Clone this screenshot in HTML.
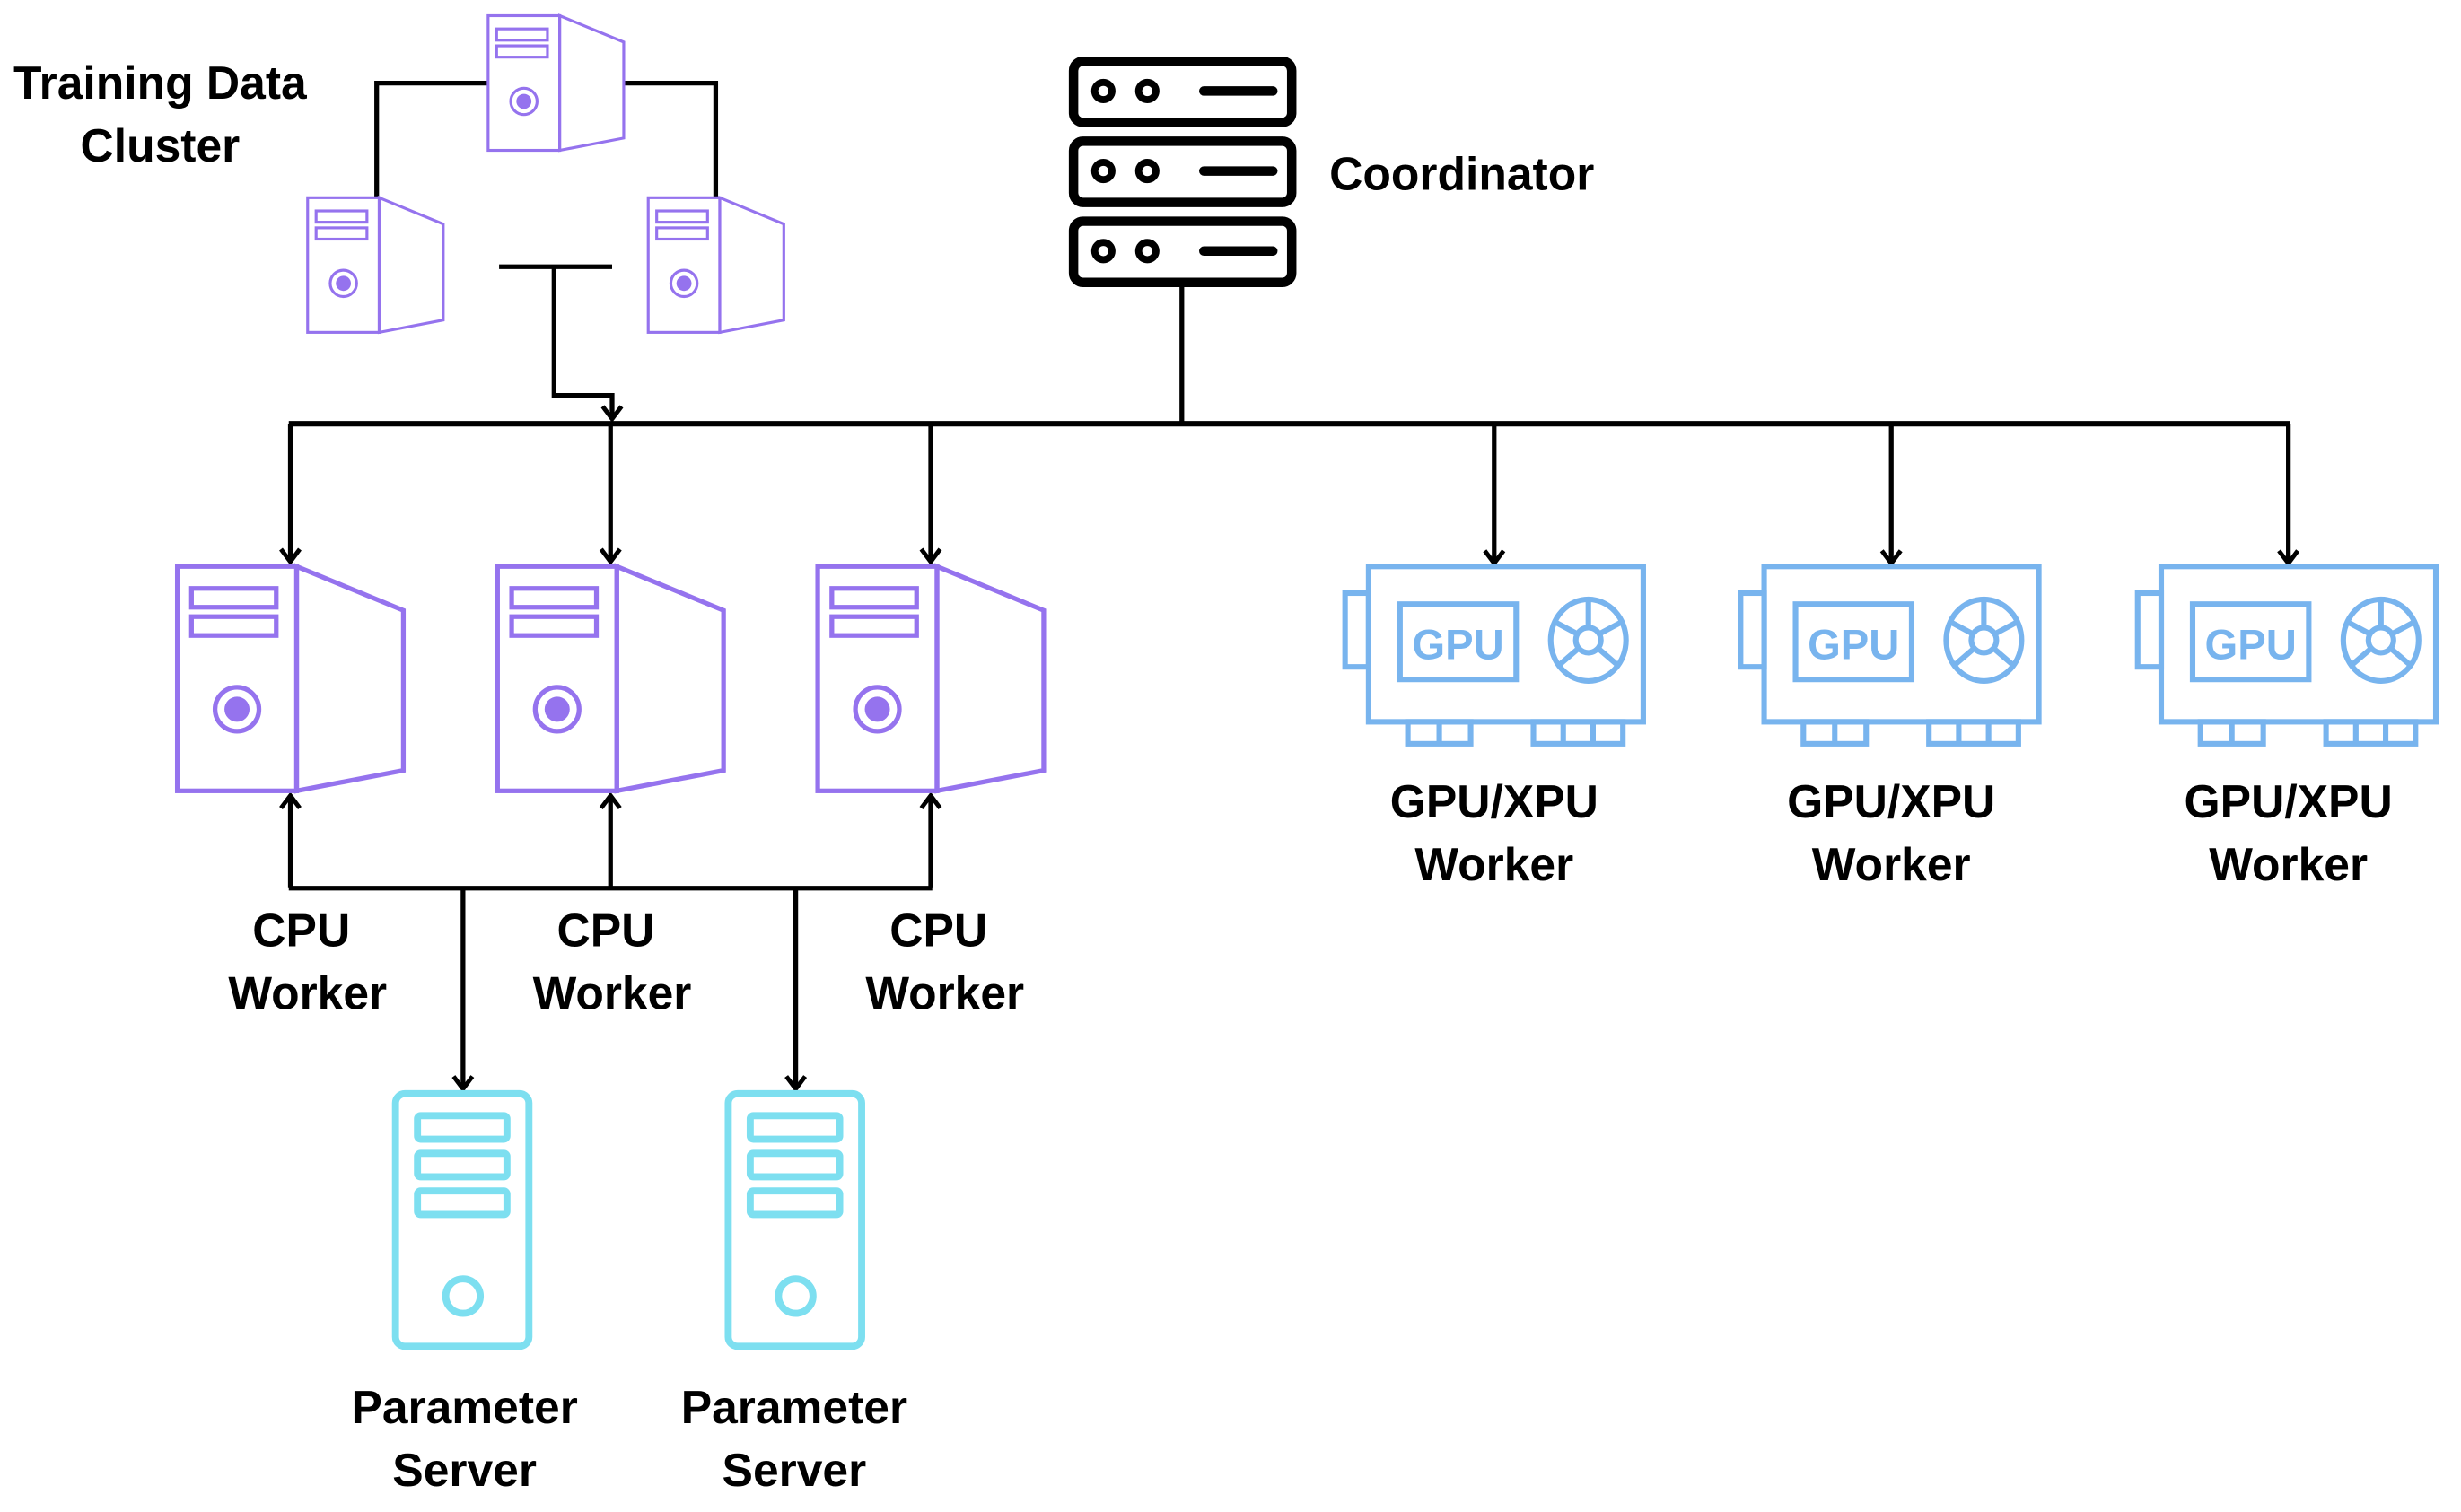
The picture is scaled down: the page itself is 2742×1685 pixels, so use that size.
<!DOCTYPE html>
<html><head><meta charset="utf-8"><style>
html,body{margin:0;padding:0;background:#fff;}
svg{display:block;}
text{font-family:"Liberation Sans",sans-serif;font-weight:bold;fill:#000;}
</style></head><body>
<svg width="2742" height="1685" viewBox="0 0 1568 963.6" preserveAspectRatio="none" xmlns="http://www.w3.org/2000/svg">
<defs>
<marker id="ah" markerWidth="16" markerHeight="16" refX="11" refY="8" orient="auto" markerUnits="userSpaceOnUse" style="overflow:visible">
<polyline points="3,2 11,8 3,14" fill="none" stroke="#000" stroke-width="2.8"/>
</marker>
<g id="cpu" fill="none" stroke="#9573ee" stroke-width="3">
<rect x="0" y="0" width="76" height="143"/>
<rect x="9" y="14" width="54" height="12"/>
<rect x="9" y="32" width="54" height="12"/>
<circle cx="38" cy="91" r="14"/>
<circle cx="38" cy="91" r="8" fill="#9573ee" stroke="none"/>
<polygon points="76,0 144,28 144,130 76,143"/>
</g>
<g id="gpu" fill="none" stroke="#78b4ee" stroke-width="3.5">
<rect x="0" y="0" width="175" height="99"/>
<rect x="-15" y="17" width="15" height="47"/>
<rect x="20" y="24" width="74" height="48"/>
<ellipse cx="140" cy="47" rx="24" ry="26"/>
<circle cx="140" cy="47" r="8"/>
<path d="M140 21 L140 39 M118 35 L133 43 M120 64 L134 52 M160 64 L146 52 M162 35 L147 43"/>
<rect x="25" y="99" width="40" height="14"/>
<line x1="45" y1="99" x2="45" y2="113"/>
<rect x="105" y="99" width="57" height="14"/>
<line x1="124" y1="99" x2="124" y2="113"/>
<line x1="143" y1="99" x2="143" y2="113"/>
<text x="57" y="59" text-anchor="middle" font-size="27" fill="#78b4ee" stroke="none" style="fill:#78b4ee">GPU</text>
</g>
<g id="ps" fill="none" stroke="#7ddff0" stroke-width="4.5">
<rect x="0" y="0" width="85" height="161" rx="6"/>
<rect x="14" y="14" width="57" height="15" rx="2"/>
<rect x="14" y="38" width="57" height="15" rx="2"/>
<rect x="14" y="62" width="57" height="15" rx="2"/>
<circle cx="43" cy="129" r="11"/>
</g>
</defs>

<text x="102" y="63" text-anchor="middle" font-size="29.5">Training Data</text>
<text x="102" y="103" text-anchor="middle" font-size="29.5">Cluster</text>
<g fill="none" stroke="#000" stroke-width="3">
<polyline points="240,126 240,53 311,53"/>
<polyline points="397,53 456,53 456,126"/>
<line x1="318" y1="170" x2="390" y2="170"/>
<polyline points="353,170 353,252 390,252 390,267" marker-end="url(#ah)"/>
</g>
<use href="#cpu" transform="translate(311,10) scale(0.6)"/>
<use href="#cpu" transform="translate(196,126) scale(0.6)"/>
<use href="#cpu" transform="translate(413,126) scale(0.6)"/>

<g fill="none" stroke="#000" stroke-width="6">
<rect x="684" y="39" width="139" height="39" rx="6"/>
<rect x="684" y="90" width="139" height="39" rx="6"/>
<rect x="684" y="141" width="139" height="39" rx="6"/>
</g>
<g fill="none" stroke="#000" stroke-width="4.5">
<circle cx="703" cy="58" r="5.5"/><circle cx="731" cy="58" r="5.5"/>
<circle cx="703" cy="109" r="5.5"/><circle cx="731" cy="109" r="5.5"/>
<circle cx="703" cy="160" r="5.5"/><circle cx="731" cy="160" r="5.5"/>
</g>
<g stroke="#000" stroke-width="6" stroke-linecap="round">
<line x1="767" y1="58" x2="811" y2="58"/>
<line x1="767" y1="109" x2="811" y2="109"/>
<line x1="767" y1="160" x2="811" y2="160"/>
</g>
<text x="847" y="121" font-size="29.5">Coordinator</text>

<g fill="none" stroke="#000" stroke-width="3">
<line x1="753" y1="180" x2="753" y2="270"/>
<line x1="184" y1="270" x2="1459" y2="270" stroke-width="3.5"/>
<line x1="185" y1="270" x2="185" y2="358" marker-end="url(#ah)"/>
<line x1="389" y1="270" x2="389" y2="358" marker-end="url(#ah)"/>
<line x1="593" y1="270" x2="593" y2="358" marker-end="url(#ah)"/>
<line x1="952" y1="270" x2="952" y2="359" marker-end="url(#ah)"/>
<line x1="1205" y1="270" x2="1205" y2="359" marker-end="url(#ah)"/>
<line x1="1458" y1="270" x2="1458" y2="359" marker-end="url(#ah)"/>
<line x1="185" y1="566" x2="185" y2="507" marker-end="url(#ah)"/>
<line x1="389" y1="566" x2="389" y2="507" marker-end="url(#ah)"/>
<line x1="593" y1="566" x2="593" y2="507" marker-end="url(#ah)"/>
<line x1="184" y1="566" x2="594" y2="566"/>
<line x1="295" y1="566" x2="295" y2="694" marker-end="url(#ah)"/>
<line x1="507" y1="566" x2="507" y2="694" marker-end="url(#ah)"/>
</g>

<use href="#cpu" transform="translate(113,361)"/>
<use href="#cpu" transform="translate(317,361)"/>
<use href="#cpu" transform="translate(521,361)"/>
<g font-size="29.5" text-anchor="middle">
<text x="192" y="603">CPU</text><text x="196" y="643">Worker</text>
<text x="386" y="603">CPU</text><text x="390" y="643">Worker</text>
<text x="598" y="603">CPU</text><text x="602" y="643">Worker</text>
</g>

<use href="#gpu" transform="translate(872,361)"/>
<use href="#gpu" transform="translate(1124,361)"/>
<use href="#gpu" transform="translate(1377,361)"/>
<g font-size="29.5" text-anchor="middle">
<text x="952" y="521">GPU/XPU</text><text x="952" y="561">Worker</text>
<text x="1205" y="521">GPU/XPU</text><text x="1205" y="561">Worker</text>
<text x="1458" y="521">GPU/XPU</text><text x="1458" y="561">Worker</text>
</g>

<use href="#ps" transform="translate(252,697)"/>
<use href="#ps" transform="translate(464,697)"/>
<g font-size="29.5" text-anchor="middle">
<text x="296" y="907">Parameter</text><text x="296" y="947">Server</text>
<text x="506" y="907">Parameter</text><text x="506" y="947">Server</text>
</g>
</svg>
</body></html>
